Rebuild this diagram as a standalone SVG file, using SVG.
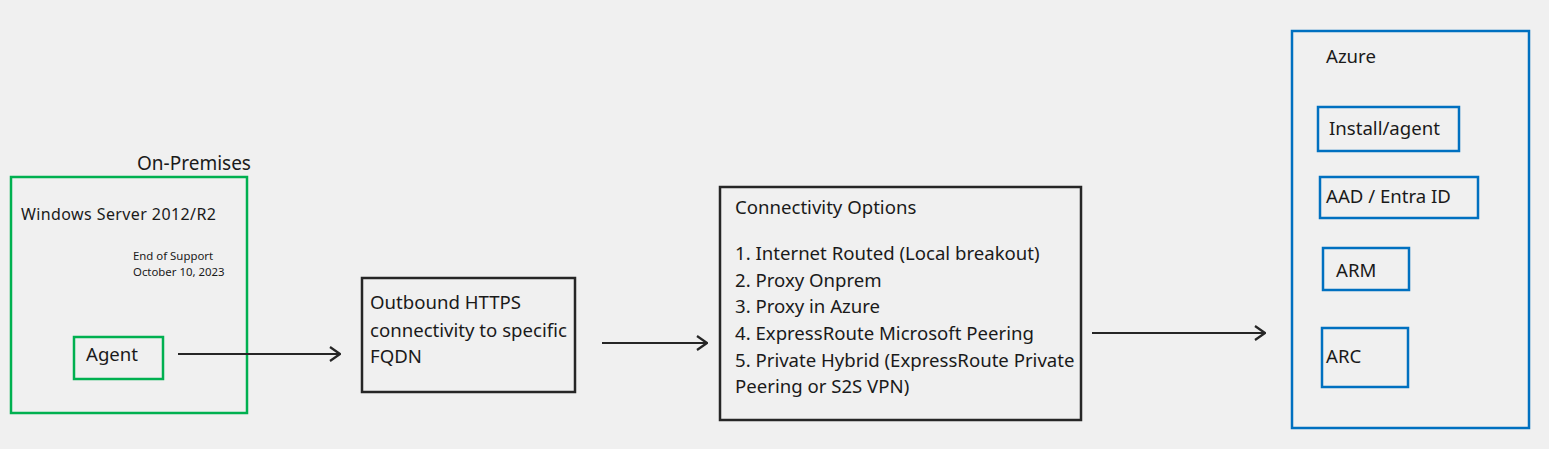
<svg xmlns="http://www.w3.org/2000/svg" width="1549" height="449" viewBox="0 0 1549 449">
<defs>
<marker id="arr" viewBox="0 0 12 16" refX="11" refY="8" markerWidth="12" markerHeight="16" markerUnits="userSpaceOnUse" orient="auto">
<path d="M1,1 L11,8 L1,15" fill="none" stroke="#262626" stroke-width="2.2"/>
</marker>
<style>
text{font-family:"Noto Sans","Liberation Sans",sans-serif;fill:#1a1a1a}
.t18{font-size:18.6px}
.t14{font-size:16px;letter-spacing:0.4px}
.t11{font-size:11.4px}
.g{fill:none;stroke:#00b050;stroke-width:2.5}
.k{fill:none;stroke:#262626;stroke-width:2.5}
.b{fill:none;stroke:#0070c0;stroke-width:2.5}
.c{fill:none;stroke:#262626;stroke-width:2.2;marker-end:url(#arr)}
</style>
</defs>
<rect width="1549" height="449" fill="#f0f0f0"/>
<g id="onprem">
<text class="t18" x="137" y="170" style="font-size:19px">On-Premises</text>
<rect class="g" x="11" y="177" width="236" height="236"/>
<text class="t14" x="21" y="220">Windows Server 2012/R2</text>
<text class="t11" x="133" y="260">End of Support</text>
<text class="t11" x="133" y="276">October 10, 2023</text>
</g>
<g id="agent">
<rect class="g" x="74" y="337" width="89" height="42"/>
<text class="t18" x="86" y="361">Agent</text>
</g>
<g id="outbound">
<rect class="k" x="362" y="278" width="213" height="114"/>
<text class="t18" x="370" y="309">Outbound HTTPS</text>
<text class="t18" x="370" y="337">connectivity to specific</text>
<text class="t18" x="370" y="363">FQDN</text>
</g>
<g id="options">
<rect class="k" x="720" y="187" width="361" height="233"/>
<text class="t18" x="735" y="214">Connectivity Options</text>
<text class="t18" x="735" y="260">1. Internet Routed (Local breakout)</text>
<text class="t18" x="735" y="287">2. Proxy Onprem</text>
<text class="t18" x="735" y="313">3. Proxy in Azure</text>
<text class="t18" x="735" y="340">4. ExpressRoute Microsoft Peering</text>
<text class="t18" x="735" y="367">5. Private Hybrid (ExpressRoute Private</text>
<text class="t18" x="735" y="393">Peering or S2S VPN)</text>
</g>
<g id="azure">
<rect class="b" x="1292" y="31" width="237" height="397"/>
<text class="t18" x="1326" y="63">Azure</text>
</g>
<g id="install">
<rect class="b" x="1318" y="107" width="141" height="44"/>
<text class="t18" x="1329" y="135">Install/agent</text>
</g>
<g id="aad">
<rect class="b" x="1320" y="177" width="158" height="41"/>
<text class="t18" x="1326" y="203">AAD / Entra ID</text>
</g>
<g id="arm">
<rect class="b" x="1323" y="248" width="86" height="42"/>
<text class="t18" x="1336" y="277">ARM</text>
</g>
<g id="arc">
<rect class="b" x="1322" y="328" width="86" height="59"/>
<text class="t18" x="1326" y="363">ARC</text>
</g>
<g id="connectors">
<line class="c" x1="178" y1="354" x2="340" y2="354"/>
<line class="c" x1="602" y1="343" x2="707" y2="343"/>
<line class="c" x1="1092" y1="333" x2="1265" y2="333"/>
</g>
</svg>
